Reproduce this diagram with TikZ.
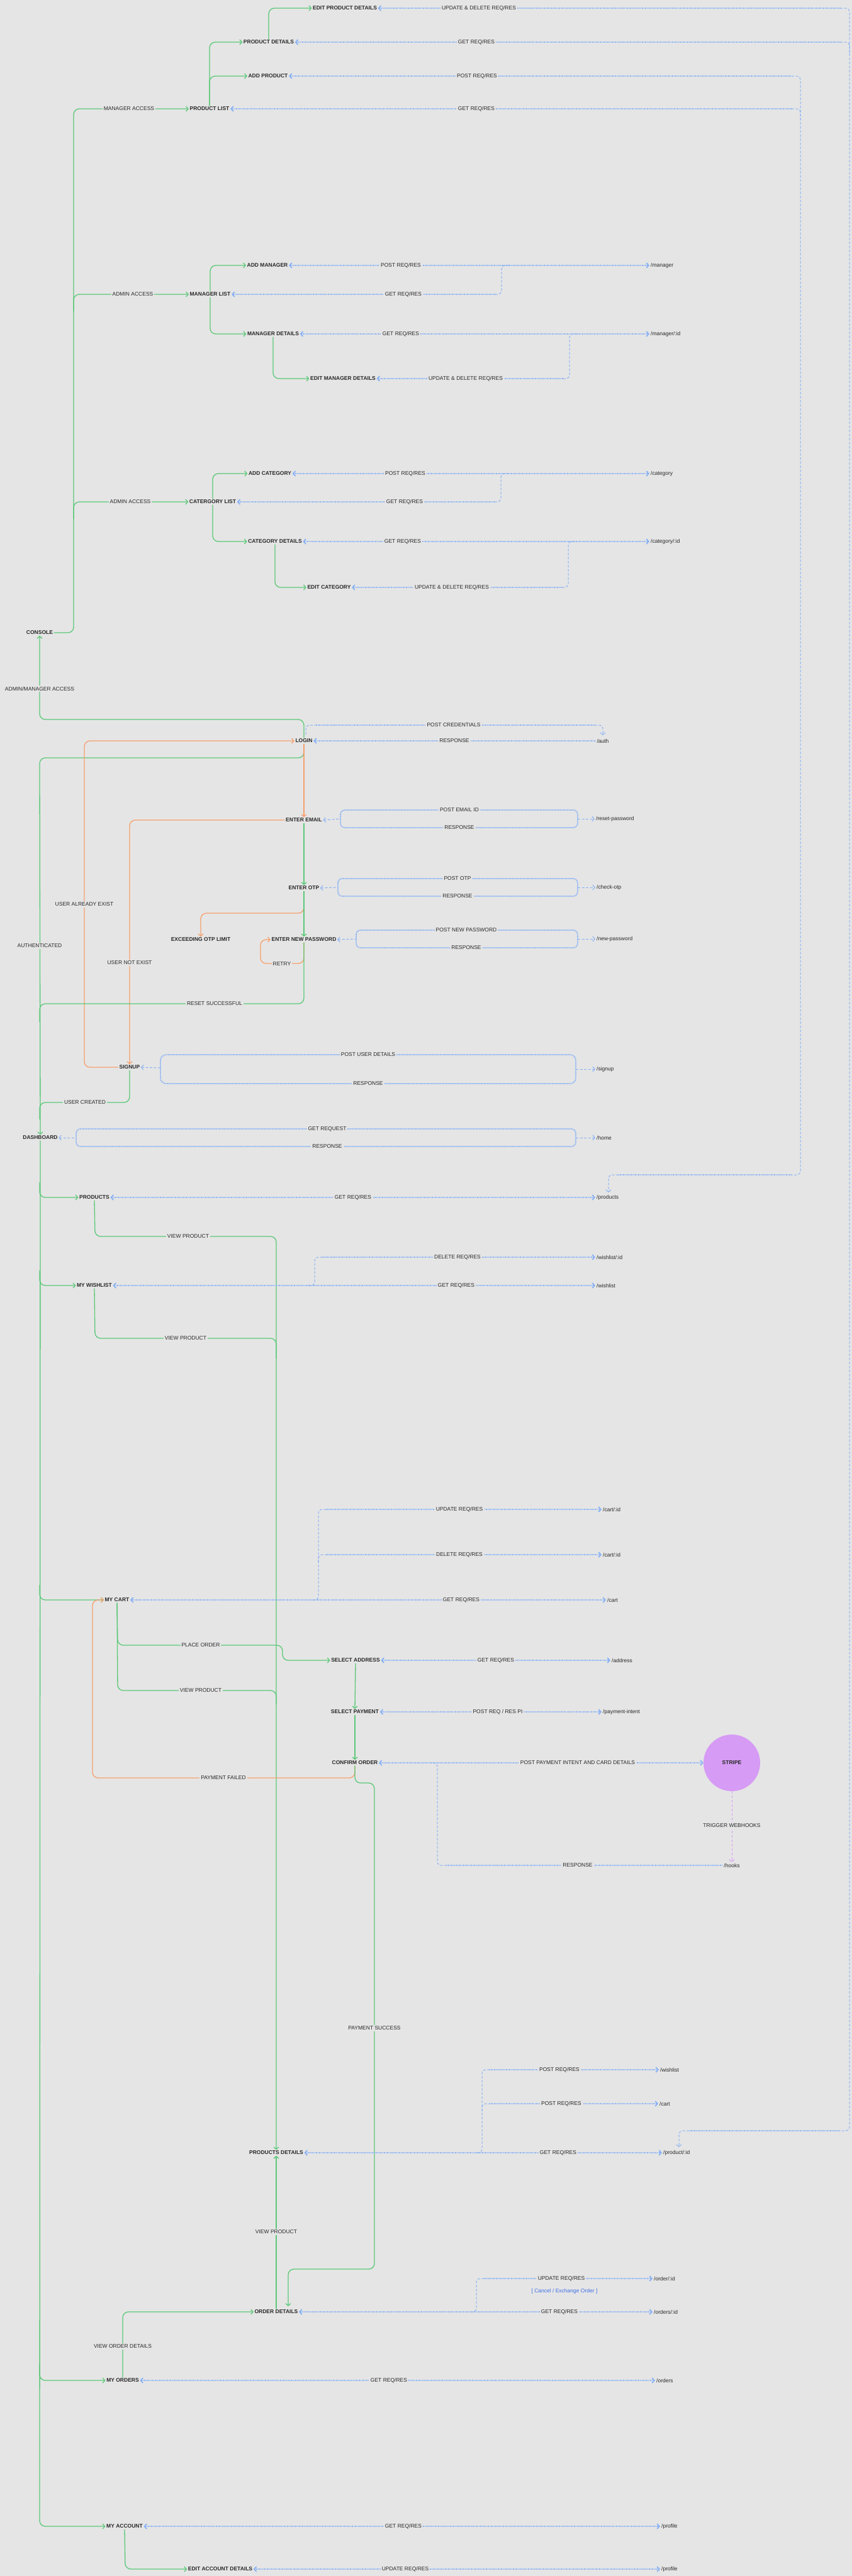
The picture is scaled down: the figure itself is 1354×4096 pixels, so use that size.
\documentclass[tikz,border=0pt]{standalone}
\usepackage{fontspec}
\setmainfont{Liberation Sans}
\usetikzlibrary{arrows.meta}
\definecolor{bg}{RGB}{229,229,229}
\definecolor{txt}{RGB}{40,40,40}
\definecolor{gr}{RGB}{92,200,120}
\definecolor{bu}{RGB}{135,177,245}
\definecolor{orc}{RGB}{245,160,110}
\definecolor{pu}{RGB}{214,155,245}
\definecolor{cblue}{RGB}{60,110,230}
\tikzset{
  nd/.style={font=\bfseries\fontsize{8.5}{10}\selectfont, text=txt, inner sep=1.5pt},
  ep/.style={font=\fontsize{8.5}{10}\selectfont, text=txt, inner sep=2pt, anchor=west},
  lbl/.style={font=\fontsize{8.5}{10}\selectfont, text=txt, fill=bg, inner sep=2pt},
  txtblue/.style={font=\fontsize{8.5}{10}\selectfont, text=cblue, inner sep=1pt},
  g/.style={draw=gr, line width=1.3pt, rounded corners=9pt},
  orl/.style={draw=orc, line width=1.3pt, rounded corners=9pt},
  bl/.style={draw=bu, line width=1.8pt, dash pattern=on 1.4pt off 1.0pt},
  bld/.style={draw=bu, line width=1pt, dash pattern=on 4pt off 2.5pt, rounded corners=6pt},
  pud/.style={draw=pu, line width=1pt, dash pattern=on 4pt off 3pt},
}
\begin{document}
\begin{tikzpicture}[x=1pt,y=-1pt,>={Straight Barb[length=3.5pt,width=8pt]}]
\useasboundingbox (0,0) rectangle (1354,4096);
\fill[bg] (0,0) rectangle (1354,4096);

% ---------- main nodes ----------
\node[nd] (editp) at (548,13) {EDIT PRODUCT DETAILS};
\node[nd] (pdet) at (427,67) {PRODUCT DETAILS};
\node[nd] (addp) at (426,121) {ADD PRODUCT};
\node[nd] (plist) at (333,173) {PRODUCT LIST};
\node[nd] (addm) at (425,422) {ADD MANAGER};
\node[nd] (mlist) at (334,468) {MANAGER LIST};
\node[nd] (mdet) at (434,531) {MANAGER DETAILS};
\node[nd] (editm) at (545,602) {EDIT MANAGER DETAILS};
\node[nd] (addc) at (429,753) {ADD CATEGORY};
\node[nd] (clist) at (338,798) {CATERGORY LIST};
\node[nd] (cdet) at (437,861) {CATEGORY DETAILS};
\node[nd] (editc) at (523,934) {EDIT CATEGORY};
\node[nd] (console) at (63,1006) {CONSOLE};
\node[nd] (login) at (483,1178) {LOGIN};
\node[nd] (email) at (483,1304) {ENTER EMAIL};
\node[nd] (otp) at (483,1412) {ENTER OTP};
\node[nd] (exceed) at (319,1494) {EXCEEDING OTP LIMIT};
\node[nd] (newpw) at (483,1494) {ENTER NEW PASSWORD};
\node[nd] (signup) at (206,1697) {SIGNUP};
\node[nd] (dash) at (64,1809) {DASHBOARD};
\node[nd] (products) at (150,1904) {PRODUCTS};
\node[nd] (wish) at (150,2044) {MY WISHLIST};
\node[nd] (cart) at (186,2544) {MY CART};
\node[nd] (addr) at (565,2640) {SELECT ADDRESS};
\node[nd] (pay) at (564,2722) {SELECT PAYMENT};
\node[nd] (confirm) at (564,2803) {CONFIRM ORDER};
\node[circle, fill=pu, minimum size=90pt, inner sep=0pt, font=\bfseries\fontsize{8.5}{10}\selectfont, text=txt] (stripe) at (1163,2803) {STRIPE};
\node[nd] (proddet) at (439,3423) {PRODUCTS DETAILS};
\node[nd] (orddet) at (439,3676) {ORDER DETAILS};
\node[nd] (myorders) at (195,3785) {MY ORDERS};
\node[nd] (account) at (198,4017) {MY ACCOUNT};
\node[nd] (editacc) at (350,4085) {EDIT ACCOUNT DETAILS};

% ---------- endpoints ----------
\node[ep] (e1) at (1032,422) {/manager};
\node[ep] (e2) at (1032,531) {/manager/:id};
\node[ep] (e3) at (1032,753) {/category};
\node[ep] (e4) at (1032,861) {/category/:id};
\node[ep, anchor=center] (auth) at (958,1178) {/auth};
\node[ep] (e5) at (945,1302) {/reset-password};
\node[ep] (e6) at (946,1411) {/check-otp};
\node[ep] (e7) at (946,1493) {/new-password};
\node[ep] (e8) at (946,1700) {/signup};
\node[ep] (e9) at (946,1809) {/home};
\node[ep] (e10) at (946,1904) {/products};
\node[ep] (e11) at (946,1999) {/wishlist/:id};
\node[ep] (e12) at (946,2044) {/wishlist};
\node[ep] (e13) at (956,2400) {/cart/:id};
\node[ep] (e14) at (956,2472) {/cart/:id};
\node[ep] (e15) at (963,2544) {/cart};
\node[ep] (e16) at (970,2640) {/address};
\node[ep] (e17) at (956,2722) {/payment-intent};
\node[ep, anchor=center] (hooks) at (1163,2966) {/hooks};
\node[ep] (e18) at (1047,3291) {/wishlist};
\node[ep] (e19) at (1046,3345) {/cart};
\node[ep] (e20) at (1052,3423) {/product/:id};
\node[ep] (e21) at (1037,3623) {/order/:id};
\node[ep] (e22) at (1037,3676) {/orders/:id};
\node[ep] (e23) at (1041,3785) {/orders};
\node[ep] (e24) at (1049,4017) {/profile};
\node[ep] (e25) at (1049,4085) {/profile};

% ---------- green / orange flow ----------
\draw[g,->] (console.east) -- (117,1006) -- (117,173) -- (plist.west);
\draw[g,->] (117,495) -- (117,468) -- (mlist.west);
\draw[g,->] (117,825) -- (117,798) -- (clist.west);
\draw[g,->] (plist.north) |- (addp.west);
\draw[g,->] (plist.north) |- (pdet.west);
\draw[g,->] (pdet.north) |- (editp.west);
\draw[g,->] (mlist.north) |- (addm.west);
\draw[g,->] (mlist.south) |- (mdet.west);
\draw[g,->] (mdet.south) |- (editm.west);
\draw[g,->] (clist.north) |- (addc.west);
\draw[g,->] (clist.south) |- (cdet.west);
\draw[g,->] (cdet.south) |- (editc.west);

\draw[g,->] (login.north) -- (483,1144) -- (63,1144) -- (console.south);
\draw[g,->] (login.south) -- (483,1205) -- (63,1205) -- (dash.north);
\draw[orl,->] (login.south) -- (email.north);
\draw[orl,->] (signup.west) -- (134,1697) -- (134,1178) -- (login.west);
\draw[orl,->] (email.west) -- (206,1304) -- (signup.north);
\draw[g,->] (email.south) -- (otp.north);
\draw[orl,->] (otp.south) -- (483,1452) -- (319,1452) -- (exceed.north);
\draw[g,->] (otp.south) -- (newpw.north);
\draw[orl,->] (newpw.south) -- (483,1532) -- (414,1532) -- (414,1494) -- (newpw.west);
\draw[g] (newpw.south) -- (483,1596) -- (63,1596) -- (63,1625);
\draw[g] (signup.south) -- (206,1753) -- (63,1753) -- (63,1780);

\draw[g,->] (dash.south) -- (63,4017) -- (account.west);
\draw[g,->] (63,1880) -- (63,1904) -- (products.west);
\draw[g,->] (63,2020) -- (63,2044) -- (wish.west);
\draw[g,->] (63,2520) -- (63,2544) -- (cart.west);
\draw[g,->] (63,3760) -- (63,3785) -- (myorders.west);

\draw[g,->] (products.south) -- (151,1966) -- (439,1966) -- (proddet.north);
\draw[g] (wish.south) -- (151,2128) -- (439,2128) -- (439,2160);
\draw[g,->] (cart.south) -- (187,2616) -- (449,2616) -- (449,2640) -- (addr.west);
\draw[g] (cart.south) -- (187,2688) -- (439,2688) -- (439,2710);
\draw[g,->] (addr.south) -- (pay.north);
\draw[g,->] (pay.south) -- (confirm.north);
\draw[orl,->] (confirm.south) -- (564,2827) -- (147,2827) -- (147,2544) -- (cart.west);
\draw[g,->] (confirm.south) -- (564,2835) -- (595,2835) -- (595,3608) -- (458,3608) -- (458,3667);
\draw[g,->] (orddet.north) -- (proddet.south);
\draw[g,->] (myorders.north) -- (195,3676) -- (orddet.west);
\draw[g,->] (account.south) -- (199,4085) -- (editacc.west);

% ---------- blue requests ----------
\draw[bl,<-] (editp.east) -- (1335,13);
\draw[bl,<-] (pdet.east) -- (1335,67);
\draw[bld] (1335,13) -- (1350,13) -- (1350,3388) -- (1335,3388);
\draw[bld] (1335,67) -- (1350,67) -- (1350,85);
\draw[bl] (1335,3388) -- (1095,3388);
\draw[bld,->] (1095,3388) -- (1079,3388) -- (1079,3414);
\draw[bl,<-] (addp.east) -- (1258,121);
\draw[bl,<-] (plist.east) -- (1258,173);
\draw[bld] (1258,121) -- (1272,121) -- (1272,1868) -- (1258,1868);
\draw[bld] (1258,173) -- (1272,173) -- (1272,190);
\draw[bl] (1258,1868) -- (983,1868);
\draw[bld,->] (983,1868) -- (967,1868) -- (967,1896);

\draw[bl,<->] (addm.east) -- (e1.west);
\draw[bl,<-] (mlist.east) -- (787,468);
\draw[bld] (787,468) -- (797,468) -- (797,422) -- (810,422);
\draw[bl,<->] (mdet.east) -- (e2.west);
\draw[bl,<-] (editm.east) -- (895,602);
\draw[bld] (895,602) -- (905,602) -- (905,531) -- (918,531);

\draw[bl,<->] (addc.east) -- (e3.west);
\draw[bl,<-] (clist.east) -- (786,798);
\draw[bld] (786,798) -- (796,798) -- (796,753) -- (809,753);
\draw[bl,<->] (cdet.east) -- (e4.west);
\draw[bl,<-] (editc.east) -- (893,934);
\draw[bld] (893,934) -- (903,934) -- (903,861) -- (916,861);

\draw[bld] (486,1168) -- (486,1153) -- (500,1153);
\draw[bl] (500,1153) -- (945,1153);
\draw[bld,->] (945,1153) -- (958,1153) -- (958,1169);
\draw[bl,<-] (login.east) -- (auth.west);

\draw[bl, rounded corners=7pt] (541,1288) rectangle (918,1316);
\draw[bld,<-] (email.east) -- (541,1302);
\draw[bld,->] (918,1302) -- (e5.west);
\draw[bl, rounded corners=7pt] (537,1397) rectangle (918,1425);
\draw[bld,<-] (otp.east) -- (537,1411);
\draw[bld,->] (918,1411) -- (e6.west);
\draw[bl, rounded corners=7pt] (566,1479) rectangle (918,1507);
\draw[bld,<-] (newpw.east) -- (566,1493);
\draw[bld,->] (918,1493) -- (e7.west);
\draw[bl, rounded corners=9pt] (255,1677) rectangle (915,1723);
\draw[bld,<-] (signup.east) -- (255,1698);
\draw[bld,->] (915,1700) -- (e8.west);
\draw[bl, rounded corners=7pt] (121,1795) rectangle (915,1823);
\draw[bld,<-] (dash.east) -- (121,1809);
\draw[bld,->] (915,1809) -- (e9.west);

\draw[bl,<->] (products.east) -- (e10.west);
\draw[bl,<->] (wish.east) -- (e12.west);
\draw[bld] (490,2044) -- (500,2044) -- (500,1999) -- (512,1999);
\draw[bl,->] (512,1999) -- (e11.west);
\draw[bl,<->] (cart.east) -- (e15.west);
\draw[bld] (497,2544) -- (506,2544) -- (506,2400) -- (518,2400);
\draw[bld] (506,2484) -- (506,2472) -- (518,2472);
\draw[bl,->] (518,2400) -- (e13.west);
\draw[bl,->] (518,2472) -- (e14.west);
\draw[bl,<->] (addr.east) -- (e16.west);
\draw[bl,<->] (pay.east) -- (e17.west);
\draw[bl,<->] (confirm.east) -- (stripe.west);
\draw[pud,->] (stripe.south) -- (hooks.north);
\draw[bl] (hooks.west) -- (710,2966);
\draw[bld] (710,2966) -- (695,2966) -- (695,2803) -- (685,2803);

\draw[bl,<->] (proddet.east) -- (e20.west);
\draw[bld] (758,3423) -- (766,3423) -- (766,3291) -- (778,3291);
\draw[bld] (766,3357) -- (766,3345) -- (778,3345);
\draw[bl,->] (778,3291) -- (e18.west);
\draw[bl,->] (778,3345) -- (e19.west);
\draw[bl,<->] (orddet.east) -- (e22.west);
\draw[bld] (748,3676) -- (757,3676) -- (757,3623) -- (769,3623);
\draw[bl,->] (769,3623) -- (e21.west);
\draw[bl,<->] (myorders.east) -- (e23.west);
\draw[bl,<->] (account.east) -- (e24.west);
\draw[bl,<->] (editacc.east) -- (e25.west);

% ---------- labels ----------
\node[lbl] at (761,13) {UPDATE \& DELETE REQ/RES};
\node[lbl] at (757,67) {GET REQ/RES};
\node[lbl] at (758,121) {POST REQ/RES};
\node[lbl] at (757,173) {GET REQ/RES};
\node[lbl] at (205,173) {MANAGER ACCESS};
\node[lbl] at (211,468) {ADMIN ACCESS};
\node[lbl] at (207,798) {ADMIN ACCESS};
\node[lbl] at (637,422) {POST REQ/RES};
\node[lbl] at (641,468) {GET REQ/RES};
\node[lbl] at (637,531) {GET REQ/RES};
\node[lbl] at (740,602) {UPDATE \& DELETE REQ/RES};
\node[lbl] at (644,753) {POST REQ/RES};
\node[lbl] at (643,798) {GET REQ/RES};
\node[lbl] at (640,861) {GET REQ/RES};
\node[lbl] at (718,934) {UPDATE \& DELETE REQ/RES};
\node[lbl] at (63,1095) {ADMIN/MANAGER ACCESS};
\node[lbl] at (721,1153) {POST CREDENTIALS};
\node[lbl] at (722,1178) {RESPONSE};
\node[lbl] at (730,1288) {POST EMAIL ID};
\node[lbl] at (730,1316) {RESPONSE};
\node[lbl] at (727,1397) {POST OTP};
\node[lbl] at (727,1425) {RESPONSE};
\node[lbl] at (741,1479) {POST NEW PASSWORD};
\node[lbl] at (741,1507) {RESPONSE};
\node[lbl] at (134,1438) {USER ALREADY EXIST};
\node[lbl] at (206,1531) {USER NOT EXIST};
\node[lbl] at (63,1504) {AUTHENTICATED};
\node[lbl] at (448,1533) {RETRY};
\node[lbl] at (341,1596) {RESET SUCCESSFUL};
\node[lbl] at (585,1677) {POST USER DETAILS};
\node[lbl] at (585,1723) {RESPONSE};
\node[lbl] at (135,1753) {USER CREATED};
\node[lbl] at (520,1795) {GET REQUEST};
\node[lbl] at (520,1823) {RESPONSE};
\node[lbl] at (561,1904) {GET REQ/RES};
\node[lbl] at (299,1966) {VIEW PRODUCT};
\node[lbl] at (727,1999) {DELETE REQ/RES};
\node[lbl] at (725,2044) {GET REQ/RES};
\node[lbl] at (295,2128) {VIEW PRODUCT};
\node[lbl] at (730,2400) {UPDATE REQ/RES};
\node[lbl] at (730,2472) {DELETE REQ/RES};
\node[lbl] at (733,2544) {GET REQ/RES};
\node[lbl] at (319,2616) {PLACE ORDER};
\node[lbl] at (788,2640) {GET REQ/RES};
\node[lbl] at (319,2688) {VIEW PRODUCT};
\node[lbl] at (791,2722) {POST REQ / RES PI};
\node[lbl] at (918,2803) {POST PAYMENT INTENT AND CARD DETAILS};
\node[lbl] at (355,2827) {PAYMENT FAILED};
\node[lbl] at (1163,2903) {TRIGGER WEBHOOKS};
\node[lbl] at (918,2966) {RESPONSE};
\node[lbl] at (595,3225) {PAYMENT SUCCESS};
\node[lbl] at (889,3291) {POST REQ/RES};
\node[lbl] at (892,3345) {POST REQ/RES};
\node[lbl] at (887,3423) {GET REQ/RES};
\node[lbl] at (439,3549) {VIEW PRODUCT};
\node[lbl] at (892,3623) {UPDATE REQ/RES};
\node[txtblue] (cancel) at (897,3643) {[ Cancel / Exchange Order ]};
\node[lbl] at (889,3676) {GET REQ/RES};
\node[lbl] at (195,3731) {VIEW ORDER DETAILS};
\node[lbl] at (618,3785) {GET REQ/RES};
\node[lbl] at (641,4017) {GET REQ/RES};
\node[lbl] at (644,4085) {UPDATE REQ/RES};
\end{tikzpicture}
\end{document}
